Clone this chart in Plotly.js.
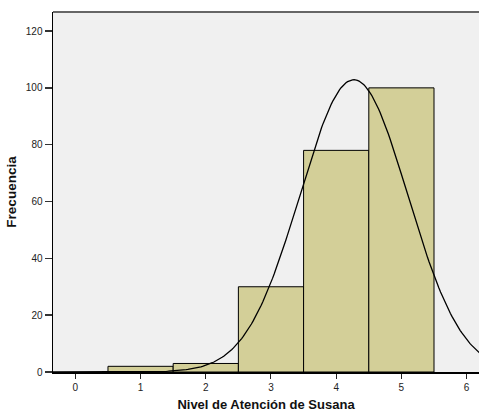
<!DOCTYPE html>
<html>
<head>
<meta charset="utf-8">
<script src="https://cdn.plot.ly/plotly-3.0.1.min.js"></script>
<style>html,body{margin:0;padding:0;background:#fff;}#chart{width:479px;height:415px;}</style>
</head>
<body>
<div id="chart"></div>
<script>
// Histogram bins (Nivel de Atención de Susana) and counts
var categories = [1, 2, 3, 4, 5];
var counts = [2, 3, 30, 78, 100];
var xTicks = [0, 1, 2, 3, 4, 5, 6];
var yTicks = [0, 20, 40, 60, 80, 100, 120];
// Fitted normal curve parameters (SPSS style)
var curveMean = 4.27;
var curveSD = 0.826;
var curveN = 213;

var cx = [], cy = [];
for (var i = 0; i <= 280; i++) {
  var x = -0.4 + i * 0.025;
  var z = (x - curveMean) / curveSD;
  cx.push(x);
  cy.push(curveN * Math.exp(-0.5 * z * z) / (curveSD * Math.sqrt(2 * Math.PI)));
}

var data = [
  {
    type: 'bar', x: categories, y: counts, width: 1,
    marker: {color: '#D3CF98', line: {color: '#000000', width: 1}},
    hoverinfo: 'x+y'
  },
  {
    type: 'scatter', mode: 'lines', x: cx, y: cy, cliponaxis: true,
    line: {color: '#000000', width: 1.3}, hoverinfo: 'skip'
  }
];

var layout = {
  width: 479, height: 415,
  margin: {l: 53, r: 0, t: 12, b: 43},
  paper_bgcolor: '#ffffff',
  plot_bgcolor: '#F0F0F0',
  showlegend: false,
  bargap: 0,
  font: {family: 'Liberation Sans, Arial, sans-serif', size: 10, color: '#222222'},
  xaxis: {
    range: [-0.343, 6.19], tickvals: xTicks, ticktext: xTicks.map(String),
    ticks: 'outside', ticklen: 5, tickwidth: 1, tickcolor: '#222',
    showgrid: false, zeroline: false, showline: true, linecolor: '#000', linewidth: 1.5,
    tickfont: {size: 10},
    title: {text: 'Nivel de Atención de Susana', font: {size: 13, color: '#111', weight: 'bold'}, standoff: 8}
  },
  yaxis: {
    range: [0, 126.7], tickvals: yTicks, ticktext: yTicks.map(String),
    ticks: 'outside', ticklen: 7, tickwidth: 1.5, tickcolor: '#333',
    showgrid: false, zeroline: false, showline: true, linecolor: '#000', linewidth: 1.5,
    tickfont: {size: 10},
    title: {text: 'Frecuencia', font: {size: 13.5, color: '#111', weight: 'bold'}, standoff: 6}
  },
  shapes: [
    {type: 'line', xref: 'paper', yref: 'paper', x0: 0, x1: 1, y0: 1, y1: 1,
     line: {color: '#666666', width: 2}}
  ]
};

Plotly.newPlot('chart', data, layout, {staticPlot: true});
</script>
</body>
</html>
